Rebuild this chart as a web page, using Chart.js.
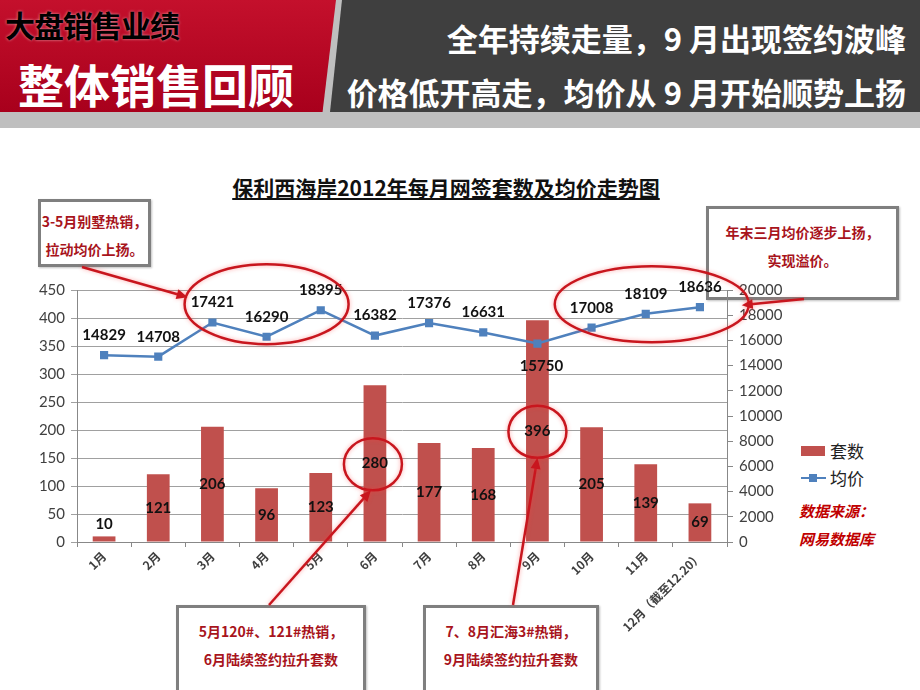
<!DOCTYPE html>
<html><head><meta charset="utf-8">
<script src="https://cdn.jsdelivr.net/npm/chart.js@4.4.0/dist/chart.umd.min.js"></script>
<style>
body{margin:0;width:920px;height:690px;position:relative;overflow:hidden;background:#fff;font-family:'Noto Sans CJK SC',sans-serif;}
.abs{position:absolute;}
#hdrBase{left:0;top:0;width:920px;height:128px;background:#bfbfbf;}
#hdrRed{left:0;top:0;width:336px;height:112px;background:linear-gradient(#c4102c,#a8001c);clip-path:polygon(0 0,100% 0,96% 100%,0 100%);}
#hdrDark{left:330px;top:0;width:590px;height:112px;background:#3f3f3f;clip-path:polygon(12px 0,100% 0,100% 100%,0 100%);}
#t1{left:5px;top:2px;font-size:30px;font-weight:bold;color:#000;text-shadow:0 0 3px rgba(255,255,255,0.6);white-space:nowrap;letter-spacing:-1px;}
#t2{left:18px;top:50px;font-size:46px;font-weight:bold;color:#fff;white-space:nowrap;letter-spacing:0px;}
.rt{right:14px;font-size:31px;font-weight:bold;color:#fff;white-space:nowrap;}
#r1{top:15px;}
#r2{top:69px;}
#title{left:0;width:892px;top:172px;text-align:center;font-size:21px;font-weight:bold;color:#111;text-decoration:underline;}
.box{border:3px solid #7f7f7f;background:#fff;box-shadow:1px 1px 2px rgba(0,0,0,0.25);color:#a8141c;font-weight:bold;font-size:14px;text-align:center;line-height:28px;box-sizing:border-box;}
#b1{left:38px;top:199px;width:113px;height:68px;padding-top:5px;}
#b2{left:706px;top:206px;width:193px;height:94px;padding-top:9px;}
#b3{left:176px;top:605px;width:190px;height:100px;padding-top:9px;}
#b4{left:423px;top:605px;width:176px;height:100px;padding-top:9px;}
#lg1sw{left:801px;top:446px;width:24px;height:10px;background:#c0504d;}
#lg1t{left:830px;top:438px;font-size:17px;color:#222;}
#lg2ln{left:801px;top:477px;width:25px;height:2px;background:#4f81bd;}
#lg2mk{left:809px;top:474px;width:8px;height:8px;background:#4f81bd;}
#lg2t{left:830px;top:465px;font-size:17px;color:#222;}
.src{left:799px;font-size:15px;font-style:italic;font-weight:bold;color:#c00000;}
#s1{top:500px;}
#s2{top:528px;}
#cv{position:absolute;left:0;top:0;z-index:5;}
</style></head>
<body>
<div id="hdrBase" class="abs"></div>
<div id="hdrRed" class="abs"></div>
<div id="hdrDark" class="abs"></div>
<div id="t1" class="abs">大盘销售业绩</div>
<div id="t2" class="abs">整体销售回顾</div>
<div id="r1" class="abs rt">全年持续走量，9 月出现签约波峰</div>
<div id="r2" class="abs rt">价格低开高走，均价从 9 月开始顺势上扬</div>
<div id="title" class="abs">保利西海岸2012年每月网签套数及均价走势图</div>
<div id="b1" class="abs box">3-5月别墅热销，<br>拉动均价上扬。</div>
<div id="b2" class="abs box">年末三月均价逐步上扬，<br>实现溢价。</div>
<div id="b3" class="abs box">5月120#、121#热销，<br>6月陆续签约拉升套数</div>
<div id="b4" class="abs box">7、8月汇海3#热销，<br>9月陆续签约拉升套数</div>
<div id="lg1sw" class="abs"></div><div id="lg1t" class="abs">套数</div>
<div id="lg2ln" class="abs"></div><div id="lg2mk" class="abs"></div><div id="lg2t" class="abs">均价</div>
<div id="s1" class="abs src">数据来源：</div>
<div id="s2" class="abs src">网易数据库</div>
<canvas id="cv" width="920" height="690"></canvas>
<script>
const months = ['1月','2月','3月','4月','5月','6月','7月','8月','9月','10月','11月','12月（截至12.20）'];
const units = [10,121,206,96,123,280,177,168,396,205,139,69];
const avgPrice = [14829,14708,17421,16290,18395,16382,17376,16631,15750,17008,18109,18636];
const unitAxis = [0,450,50];
const priceAxis = [0,20000,2000];

const RED = '#c8161e';
function arrow(ctx,x1,y1,x2,y2){
  const a = Math.atan2(y2-y1,x2-x1), L=11, W=5;
  ctx.beginPath();ctx.moveTo(x1,y1);ctx.lineTo(x2-Math.cos(a)*L*0.8,y2-Math.sin(a)*L*0.8);ctx.stroke();
  ctx.beginPath();
  ctx.moveTo(x2,y2);
  ctx.lineTo(x2-L*Math.cos(a)+W*Math.sin(a), y2-L*Math.sin(a)-W*Math.cos(a));
  ctx.lineTo(x2-L*Math.cos(a)-W*Math.sin(a), y2-L*Math.sin(a)+W*Math.cos(a));
  ctx.closePath();ctx.fill();
}
const overlay = {
  id:'overlay',
  afterDatasetsDraw(chart){
    const ctx = chart.ctx, m0 = chart.getDatasetMeta(0), m1 = chart.getDatasetMeta(1);
    ctx.save();
    ctx.font = 'bold 15px Lato';ctx.fillStyle='#111';ctx.textAlign='center';ctx.textBaseline='middle';
    m0.data.forEach((b,i)=>{
      const h = b.base-b.y;
      ctx.fillText(String(units[i]), b.x, h<24 ? b.y-12 : (b.y+b.base)/2);
    });
    m1.data.forEach((p,i)=>{
      const b = m0.data[i];
      const below = b.y < p.y;
      ctx.fillText(String(avgPrice[i]), p.x+(below?4:0), below ? p.y+23 : p.y-20);
    });
    ctx.restore();
  },
  afterDraw(chart){
    const ctx = chart.ctx, xs = chart.scales.x, yP = chart.scales.y1;
    const m0 = chart.getDatasetMeta(0);
    ctx.save();
    ctx.strokeStyle = RED; ctx.fillStyle = RED; ctx.lineWidth = 2.5;
    ctx.shadowColor='rgba(255,60,60,0.45)'; ctx.shadowBlur=4;
    const e1 = {cx:(xs.getPixelForValue(2)+xs.getPixelForValue(4))/2, cy:yP.getPixelForValue(18000)-11, rx:82, ry:40};
    const e2 = {cx:(xs.getPixelForValue(9)+xs.getPixelForValue(11))/2+6, cy:yP.getPixelForValue(18000)-11, rx:97, ry:38};
    const c1 = {cx:m0.data[5].x-2, cy:(m0.data[5].y+m0.data[5].base)/2+1, rx:29, ry:26};
    const c2 = {cx:m0.data[8].x, cy:(m0.data[8].y+m0.data[8].base)/2+1, rx:29, ry:26};
    [e1,e2,c1,c2].forEach(e=>{ctx.beginPath();ctx.ellipse(e.cx,e.cy,e.rx,e.ry,0,0,Math.PI*2);ctx.stroke();});
    const rb = id=>document.getElementById(id).getBoundingClientRect();
    const b1=rb('b1'), b2=rb('b2'), b3=rb('b3'), b4=rb('b4');
    arrow(ctx, b1.left+44, b1.bottom, e1.cx-e1.rx+3, e1.cy-7);
    arrow(ctx, b2.left+98, b2.bottom-1, e2.cx+e2.rx-7, e2.cy+1);
    arrow(ctx, b3.left+93, b3.top, c1.cx-2, c1.cy+c1.ry);
    arrow(ctx, b4.left+90, b4.top, c2.cx, c2.cy+c2.ry);
    ctx.restore();
  }
};

new Chart(document.getElementById('cv'), {
  data:{
    labels: months,
    datasets:[
      {type:'bar', label:'套数', data:units, backgroundColor:'#c0504d', yAxisID:'y', order:1,
       categoryPercentage:1, barPercentage:0.42},
      {type:'line', label:'均价', data:avgPrice, borderColor:'#4f81bd', backgroundColor:'#4f81bd', borderWidth:2.5,
       pointStyle:'rect', pointRadius:4, yAxisID:'y1', order:0, tension:0}
    ]
  },
  options:{
    responsive:false, animation:false,
    layout:{padding:{left:32,right:133,top:290,bottom:28}},
    plugins:{legend:{display:false},tooltip:{enabled:false}},
    scales:{
      x:{
        afterFit(s){s.height=120;},
        grid:{display:true,drawOnChartArea:false,tickLength:5,color:'#888'},
        border:{color:'#888'},
        ticks:{minRotation:45,maxRotation:45,color:'#404040',font:{family:'Noto Sans CJK SC',size:12,weight:'bold'},padding:2,autoSkip:false}
      },
      y:{
        position:'left', min:unitAxis[0], max:unitAxis[1],
        afterFit(s){s.width=45;},
        ticks:{stepSize:unitAxis[2],color:'#404040',font:{family:'Lato',size:15},padding:6,callback:v=>String(v)},
        grid:{color:'#a0a0a0',tickLength:6},
        border:{color:'#888'}
      },
      y1:{
        position:'right', min:priceAxis[0], max:priceAxis[1],
        afterFit(s){s.width=60;},
        ticks:{stepSize:priceAxis[2],color:'#404040',font:{family:'Lato',size:15},padding:6,callback:v=>String(v)},
        grid:{drawOnChartArea:false,tickLength:6,color:'#888'},
        border:{color:'#888'}
      }
    }
  },
  plugins:[overlay]
});
</script>
</body></html>
